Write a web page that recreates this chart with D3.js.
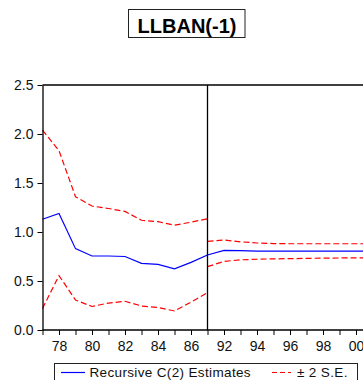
<!DOCTYPE html>
<html>
<head>
<meta charset="utf-8">
<script src="https://cdn.jsdelivr.net/npm/d3@7"></script>
<style>
  html, body { margin: 0; padding: 0; background: #fff; }
  svg { display: block; font-family: "Liberation Sans", Arial, sans-serif; }
</style>
</head>
<body>
<svg id="chart" width="363" height="380"></svg>
<script>
// Recursive coefficient estimates for LLBAN(-1), two sample segments
const title = "LLBAN(-1)";

const yearsA = [1977, 1978, 1979, 1980, 1981, 1982, 1983, 1984, 1985, 1986, 1987];
const estimateA = [1.13, 1.19, 0.83, 0.755, 0.755, 0.75, 0.68, 0.67, 0.625, 0.69, 0.765];
const upperA = [2.04, 1.83, 1.36, 1.265, 1.24, 1.21, 1.12, 1.105, 1.07, 1.10, 1.135];
const lowerA = [0.22, 0.555, 0.306, 0.24, 0.275, 0.293, 0.245, 0.23, 0.194, 0.285, 0.38];

const yearsB = [1991, 1992, 1993, 1994, 1995, 1996, 1997, 1998, 1999, 2000, 2001];
const estimateB = [0.765, 0.812, 0.81, 0.805, 0.805, 0.805, 0.805, 0.805, 0.805, 0.805, 0.805];
const upperB = [0.905, 0.918, 0.9, 0.888, 0.882, 0.88, 0.88, 0.88, 0.88, 0.88, 0.88];
const lowerB = [0.646, 0.70, 0.716, 0.722, 0.726, 0.728, 0.731, 0.733, 0.735, 0.736, 0.738];

const xTickYears = [1977, 1978, 1979, 1980, 1981, 1982, 1983, 1984, 1985, 1986, 1987,
                    1992, 1993, 1994, 1995, 1996, 1997, 1998, 1999, 2000, 2001];
const xLabelYears = [1978, 1980, 1982, 1984, 1986, 1992, 1994, 1996, 1998, 2000];
const yTicks = [0.0, 0.5, 1.0, 1.5, 2.0, 2.5];

const legendLabels = ["Recursive C(2) Estimates", "\u00b1 2 S.E."];

const svg = d3.select("#chart");

const plotLeft = 42.5, plotTop = 85, plotBottom = 330;
const step = 16.5;
const breakX = plotLeft + 10 * step;

// Piecewise scale: the two sample segments meet at the break line
const x = d3.scaleLinear()
  .domain([1977, 1987, 1991, 2001])
  .range([plotLeft, breakX, breakX, breakX + 10 * step]);
const y = d3.scaleLinear().domain([0, 2.5]).range([plotBottom, plotTop]);

const plotRight = x(2001) + step;

// Title
const titleG = svg.append("g");
titleG.append("rect")
  .attr("x", 128.5).attr("y", 9.5).attr("width", 116.5).attr("height", 28)
  .attr("fill", "#fff").attr("stroke", "#222").attr("stroke-width", 1);
titleG.append("text")
  .attr("x", 187).attr("y", 32.6)
  .attr("text-anchor", "middle")
  .attr("font-size", 20).attr("font-weight", "bold")
  .attr("fill", "#000")
  .text(title);

// Series
const line = d3.line().x(d => x(d[0])).y(d => y(d[1]));
const blue = "#0000ff", red = "#ff0000";

function drawSeries(years, vals, color, dashed) {
  svg.append("path")
    .datum(years.map((yr, i) => [yr, vals[i]]))
    .attr("d", line)
    .attr("fill", "none")
    .attr("stroke", color)
    .attr("stroke-width", 1.2)
    .attr("stroke-dasharray", dashed ? "6,3" : null);
}
drawSeries(yearsA, upperA, red, true);
drawSeries(yearsA, lowerA, red, true);
drawSeries(yearsB, upperB, red, true);
drawSeries(yearsB, lowerB, red, true);
drawSeries(yearsA, estimateA, blue, false);
drawSeries(yearsB, estimateB, blue, false);

// Frame and break line
svg.append("line")
  .attr("x1", plotLeft).attr("x2", plotRight).attr("y1", plotTop).attr("y2", plotTop)
  .attr("stroke", "#000").attr("stroke-width", 1.3);
svg.append("line")
  .attr("x1", breakX).attr("x2", breakX).attr("y1", plotTop).attr("y2", plotBottom)
  .attr("stroke", "#000").attr("stroke-width", 1.3);

// Axes
const yAxis = d3.axisLeft(y)
  .tickValues(yTicks)
  .tickFormat(d3.format(".1f"))
  .tickSizeInner(5).tickSizeOuter(0).tickPadding(4);
const yG = svg.append("g").attr("transform", `translate(${plotLeft},0)`).call(yAxis);

const labelSet = new Set(xLabelYears);
const xAxis = d3.axisBottom(x)
  .tickValues(xTickYears)
  .tickFormat(d => labelSet.has(d) ? String(d % 100).padStart(2, "0") : "")
  .tickSizeInner(5).tickSizeOuter(0).tickPadding(6);
const xG = svg.append("g").attr("transform", `translate(0,${plotBottom})`).call(xAxis);

[yG, xG].forEach(g => {
  g.select(".domain").attr("stroke", "#000").attr("stroke-width", 1.3);
  g.selectAll(".tick line").attr("stroke", "#000").attr("stroke-width", 1);
  g.selectAll(".tick text")
    .attr("font-family", "'Liberation Sans', Arial, sans-serif")
    .attr("font-size", 14).attr("fill", "#111");
});
xG.select(".domain").attr("d", `M${plotLeft},0H${plotRight}`);

// Legend
const lg = svg.append("g");
lg.append("rect")
  .attr("x", 54.5).attr("y", 363.5).attr("width", 303).attr("height", 30)
  .attr("fill", "#fff").attr("stroke", "#222").attr("stroke-width", 1);
lg.append("line")
  .attr("x1", 61).attr("x2", 85).attr("y1", 372.5).attr("y2", 372.5)
  .attr("stroke", blue).attr("stroke-width", 1.2);
lg.append("text")
  .attr("x", 89.5).attr("y", 377)
  .attr("font-size", 13.5).attr("letter-spacing", 0.35).attr("fill", "#111")
  .text(legendLabels[0]);
lg.append("line")
  .attr("x1", 272).attr("x2", 291).attr("y1", 372.5).attr("y2", 372.5)
  .attr("stroke", red).attr("stroke-width", 1.2).attr("stroke-dasharray", "5,3");
lg.append("text")
  .attr("x", 297).attr("y", 377)
  .attr("font-size", 13.5).attr("letter-spacing", 0.35).attr("fill", "#111")
  .text(legendLabels[1]);
</script>
</body>
</html>
